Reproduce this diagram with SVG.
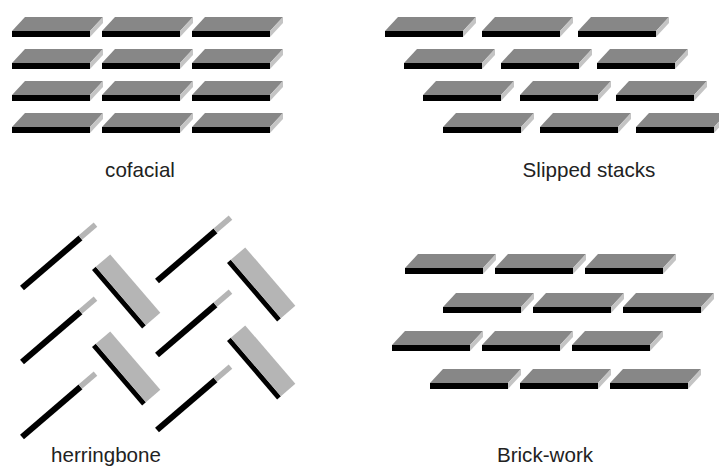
<svg xmlns="http://www.w3.org/2000/svg" xmlns:xlink="http://www.w3.org/1999/xlink" width="719" height="467" viewBox="0 0 719 467">
<style>
.top{fill:#878787}
.side{fill:#c4c4c4}
.front{fill:#000}
.hgray{fill:#b5b5b5}
.lbl{font-family:"Liberation Sans",Arial,sans-serif;font-size:20.6px;fill:#222;text-anchor:middle}
</style>
<defs>
<g id="blk">
<path class="top" d="M0,0 L13,-14 L91,-14 L78,0 Z"/>
<path class="side" d="M78,0 L91,-14 L91,-8 L78,6 Z"/>
<rect class="front" x="0" y="0" width="78" height="6"/>
</g>
<g id="stick">
<rect class="front" x="0" y="-3" width="77" height="6"/>
<rect class="hgray" x="77" y="-3" width="20" height="5.5"/>
</g>
<g id="tile">
<rect class="front" x="0" y="-5" width="77" height="5"/>
<rect class="hgray" x="0" y="-24" width="77" height="19"/>
</g>
</defs>
<rect width="719" height="467" fill="#fff"/>
<g id="cofacial">
<use xlink:href="#blk" x="12" y="31"/><use xlink:href="#blk" x="102" y="31"/><use xlink:href="#blk" x="192" y="31"/>
<use xlink:href="#blk" x="12" y="63"/><use xlink:href="#blk" x="102" y="63"/><use xlink:href="#blk" x="192" y="63"/>
<use xlink:href="#blk" x="12" y="95"/><use xlink:href="#blk" x="102" y="95"/><use xlink:href="#blk" x="192" y="95"/>
<use xlink:href="#blk" x="12" y="127"/><use xlink:href="#blk" x="102" y="127"/><use xlink:href="#blk" x="192" y="127"/>
<text class="lbl" x="140" y="177">cofacial</text>
</g>
<g id="slipped">
<use xlink:href="#blk" x="385" y="31"/><use xlink:href="#blk" x="482" y="31"/><use xlink:href="#blk" x="578" y="31"/>
<use xlink:href="#blk" x="404" y="63"/><use xlink:href="#blk" x="501" y="63"/><use xlink:href="#blk" x="597" y="63"/>
<use xlink:href="#blk" x="423" y="95"/><use xlink:href="#blk" x="520" y="95"/><use xlink:href="#blk" x="616" y="95"/>
<use xlink:href="#blk" x="443" y="127"/><use xlink:href="#blk" x="540" y="127"/><use xlink:href="#blk" x="636" y="127"/>
<text class="lbl" x="589" y="177">Slipped stacks</text>
</g>
<g id="herringbone">
<use xlink:href="#stick" transform="translate(22,288) rotate(-40.6)"/>
<use xlink:href="#stick" transform="translate(22,362) rotate(-40.6)"/>
<use xlink:href="#stick" transform="translate(22,437) rotate(-40.6)"/>
<use xlink:href="#stick" transform="translate(157,281) rotate(-40.6)"/>
<use xlink:href="#stick" transform="translate(157,355) rotate(-40.6)"/>
<use xlink:href="#stick" transform="translate(157,430) rotate(-40.6)"/>
<use xlink:href="#tile" transform="translate(92,270) rotate(49.4)"/>
<use xlink:href="#tile" transform="translate(92,347) rotate(49.4)"/>
<use xlink:href="#tile" transform="translate(227,263) rotate(49.4)"/>
<use xlink:href="#tile" transform="translate(227,341) rotate(49.4)"/>
<text class="lbl" x="106" y="462">herringbone</text>
</g>
<g id="brickwork">
<use xlink:href="#blk" x="405" y="268"/><use xlink:href="#blk" x="495" y="268"/><use xlink:href="#blk" x="585" y="268"/>
<use xlink:href="#blk" x="443" y="307"/><use xlink:href="#blk" x="533" y="307"/><use xlink:href="#blk" x="623" y="307"/>
<use xlink:href="#blk" x="392" y="345"/><use xlink:href="#blk" x="482" y="345"/><use xlink:href="#blk" x="572" y="345"/>
<use xlink:href="#blk" x="430" y="383"/><use xlink:href="#blk" x="520" y="383"/><use xlink:href="#blk" x="610" y="383"/>
<text class="lbl" x="545" y="462">Brick-work</text>
</g>
</svg>
